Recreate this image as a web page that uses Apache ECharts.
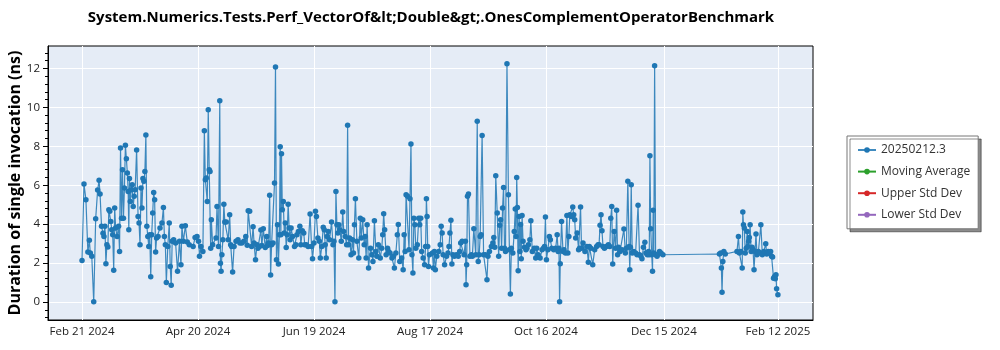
<!DOCTYPE html>
<html><head><meta charset="utf-8">
<script src="https://cdn.jsdelivr.net/npm/echarts@6/dist/echarts.min.js"></script>
<style>html,body{margin:0;padding:0;background:#fff}#chart{width:1000px;height:350px}</style>
</head><body><div id="chart"></div>
<script>
const titleText = 'System.Numerics.Tests.Perf_VectorOf&lt;Double&gt;.OnesComplementOperatorBenchmark';
const yAxisTitle = 'Duration of single invocation (ns)';
const seriesNames = ['20250212.3', 'Moving Average', 'Upper Std Dev', 'Lower Std Dev'];
const seriesColors = ['#1f77b4', '#2ca02c', '#d62728', '#9467bd'];

// run dates (one entry per day) and the values measured on that day
const runDates = [
'2024-02-21','2024-02-22','2024-02-23','2024-02-24','2024-02-25','2024-02-26','2024-02-27','2024-02-28','2024-02-29',
'2024-03-01','2024-03-02','2024-03-03','2024-03-04','2024-03-05','2024-03-06','2024-03-07','2024-03-08','2024-03-09','2024-03-10',
'2024-03-11','2024-03-12','2024-03-13','2024-03-14','2024-03-15','2024-03-16','2024-03-17','2024-03-18','2024-03-19','2024-03-20',
'2024-03-21','2024-03-22','2024-03-23','2024-03-24','2024-03-25','2024-03-26','2024-03-27','2024-03-28','2024-03-29','2024-03-30','2024-03-31',
'2024-04-01','2024-04-02','2024-04-03','2024-04-04','2024-04-05','2024-04-06','2024-04-07','2024-04-08','2024-04-09','2024-04-10',
'2024-04-11','2024-04-12','2024-04-13','2024-04-14','2024-04-15','2024-04-16','2024-04-18','2024-04-19','2024-04-20',
'2024-04-21','2024-04-22','2024-04-23','2024-04-24','2024-04-25','2024-04-26','2024-04-27','2024-04-28','2024-04-30',
'2024-05-01','2024-05-02','2024-05-03','2024-05-04','2024-05-05','2024-05-06','2024-05-07','2024-05-08','2024-05-09','2024-05-10',
'2024-05-11','2024-05-12','2024-05-13','2024-05-14','2024-05-15','2024-05-16','2024-05-17','2024-05-18','2024-05-19','2024-05-20',
'2024-05-21','2024-05-22','2024-05-23','2024-05-24','2024-05-25','2024-05-26','2024-05-27','2024-05-28','2024-05-29','2024-05-30','2024-05-31',
'2024-06-01','2024-06-02','2024-06-03','2024-06-04','2024-06-05','2024-06-06','2024-06-07','2024-06-08','2024-06-09','2024-06-10',
'2024-06-11','2024-06-12','2024-06-13','2024-06-14','2024-06-15','2024-06-16','2024-06-17','2024-06-18','2024-06-19','2024-06-20',
'2024-06-21','2024-06-22','2024-06-23','2024-06-24','2024-06-25','2024-06-26','2024-06-27','2024-06-28','2024-06-29','2024-06-30',
'2024-07-01','2024-07-02','2024-07-03','2024-07-04','2024-07-05','2024-07-06','2024-07-07','2024-07-08','2024-07-09','2024-07-10',
'2024-07-11','2024-07-12','2024-07-13','2024-07-14','2024-07-15','2024-07-16','2024-07-17','2024-07-18','2024-07-19','2024-07-20',
'2024-07-21','2024-07-22','2024-07-23','2024-07-24','2024-07-25','2024-07-26','2024-07-27','2024-07-28','2024-07-29','2024-07-30','2024-07-31',
'2024-08-01','2024-08-02','2024-08-03','2024-08-04','2024-08-05','2024-08-06','2024-08-07','2024-08-08','2024-08-09','2024-08-10',
'2024-08-11','2024-08-12','2024-08-13','2024-08-14','2024-08-15','2024-08-16','2024-08-17','2024-08-19','2024-08-20',
'2024-08-21','2024-08-22','2024-08-23','2024-08-24','2024-08-25','2024-08-26','2024-08-27','2024-08-28','2024-08-29','2024-08-30','2024-08-31',
'2024-09-01','2024-09-02','2024-09-03','2024-09-04','2024-09-05','2024-09-06','2024-09-07','2024-09-08','2024-09-09','2024-09-10',
'2024-09-11','2024-09-12','2024-09-13','2024-09-14','2024-09-15','2024-09-16','2024-09-17','2024-09-18','2024-09-19','2024-09-20',
'2024-09-21','2024-09-22','2024-09-23','2024-09-24','2024-09-25','2024-09-26','2024-09-27','2024-09-28','2024-09-29','2024-09-30',
'2024-10-01','2024-10-02','2024-10-03','2024-10-04','2024-10-05','2024-10-06','2024-10-07','2024-10-08','2024-10-09','2024-10-10',
'2024-10-11','2024-10-12','2024-10-13','2024-10-14','2024-10-15','2024-10-16','2024-10-17','2024-10-18','2024-10-19','2024-10-20',
'2024-10-21','2024-10-22','2024-10-23','2024-10-24','2024-10-25','2024-10-26','2024-10-27','2024-10-28','2024-10-29','2024-10-30','2024-10-31',
'2024-11-01','2024-11-02','2024-11-03','2024-11-04','2024-11-05','2024-11-06','2024-11-07','2024-11-08','2024-11-09','2024-11-10',
'2024-11-11','2024-11-12','2024-11-13','2024-11-14','2024-11-15','2024-11-16','2024-11-17','2024-11-18','2024-11-19','2024-11-20',
'2024-11-21','2024-11-22','2024-11-23','2024-11-24','2024-11-25','2024-11-26','2024-11-27','2024-11-28','2024-11-29','2024-11-30',
'2024-12-01','2024-12-02','2024-12-03','2024-12-04','2024-12-05','2024-12-06','2024-12-07','2024-12-08','2024-12-09','2024-12-10',
'2024-12-11','2024-12-12','2024-12-13','2024-12-14','2024-12-15',
'2025-01-13','2025-01-14','2025-01-15','2025-01-16',
'2025-01-22','2025-01-23','2025-01-24','2025-01-25','2025-01-26','2025-01-27','2025-01-28','2025-01-29','2025-01-30','2025-01-31',
'2025-02-01','2025-02-02','2025-02-03','2025-02-04','2025-02-05','2025-02-06','2025-02-07','2025-02-08','2025-02-09','2025-02-10',
'2025-02-11','2025-02-12'
];
const runValues = [
[2.14],[6.06],[5.26],[2.57],[3.17,2.52],[2.35],[0.02],[4.28],[5.75],
[6.25,5.55],[3.89],[3.54,3.37],[3.89,1.97],[2.95,2.83],[4.74,4.66],[4.14,3.72],[3.46,1.64],[4.83,3.8],[3.37],
[3.89,2.6],[7.91,4.31],[6.8,4.31],[5.86,8.05],[7.36,6.63],[5.68,3.72,6.34],[5.17,5.77],[6.03,4.91],[5.43,5.77],[7.81],
[4.4,4.06],[2.95,5.86],[4.83,6.34],[6.2,6.71],[8.58,3.89],[3.37,2.86],[3.46,1.3],[3.46,4.57],[5.63,5.26],[2.57,3.29],[3.37],
[3.8],[4.06],[4.86,3.37],[2.95,1.01],[2.86],[4.06,1.83],[0.86,3.12],[3.2],[3.03],[1.58],
[3.12],[1.92,3.89],[3.12],[3.92],[3.08],[2.95],[2.86],[3.32],[3.37],
[3.12,2.35],[2.86],[2.6],[8.8,6.28],[6.37,5.17],[9.88,6.8],[6.71,2.77,4.23],[2.95],[3.29,4.91],
[2.86],[10.34,2.0,1.58],[2.43,3.2],[5.03,4.11],[4.11],[3.2],[4.49,2.95],[2.86,1.54],[2.86],[3.12],
[3.2],[3.03],[3.03],[3.12],[3.37],[2.92,4.69],[4.66],[2.86],[3.87,3.03],[2.17],
[2.95,2.77],[2.86],[3.7,2.9],[3.77],[2.8],[3.37,2.9],[3.03,5.48],[1.39,2.95],[3.03],[6.11,12.07],[2.17,3.97],
[1.95,3.46],[7.98,3.46,7.62],[4.74,5.17],[3.55,4.06],[2.8,3.46],[5.03,3.8],[3.2,3.8],[3.37],[2.86],[2.95,3.46],
[3.63],[3.89,2.95],[3.66],[3.55,2.95],[2.95],[2.86],[4.52],[2.86,2.23],[3.03],[4.66,4.4],
[3.29],[3.12,2.26],[2.86],[3.84,3.72],[2.95,2.26],[3.37,3.63],[3.2],[4.11],[2.95,3.12],[0.02,5.68],
[3.97,3.55],[3.97,3.72],[3.12],[4.62,3.63],[3.37],[2.95,9.08],[2.95,3.29],[2.43],[3.2,2.52],[3.97,5.31],
[3.12],[2.26],[4.31,3.29],[4.23],[2.95,3.37],[2.26,3.97],[1.75],[2.77],[2.43,2.09],[4.18],
[2.6,2.35],[2.95],[2.26],[2.77,3.46],[4.54,3.72],[2.43],[2.77,2.6],[2.52],[2.26],[2.35,1.75],[2.52],
[3.46,3.99],[2.09],[2.26],[1.66,3.46],[2.6,5.51],[5.43],[2.69,5.31],[8.12,2.43],[1.49,4.31],[3.97,2.77],
[2.95],[4.31,3.97],[4.31,2.6],[2.26],[1.92,2.86],[5.31,4.4,2.86],[1.83,2.43],[2.52,1.75],[2.6,1.66],
[2.35],[2.6],[2.95,3.89],[3.55,2.43],[1.92],[2.35],[2.52,2.86],[3.55,4.2],[1.95,2.43],[2.35],[2.43],
[2.35],[2.6,3.03],[3.12],[2.43],[3.12,0.89,1.92],[5.43,5.55],[2.35],[2.43,2.35],[3.77],[2.43],
[9.28,2.09],[2.43,3.37],[3.46,8.56],[2.43],[2.43],[1.15,2.35],[2.6],[2.86],[3.03,3.32],[2.81,6.49],
[4.57],[2.35,3.94],[4.23,2.77],[4.83,5.89],[2.77,2.6],[12.24],[5.51,2.69],[0.41,2.77],[2.52],[3.63,4.78],
[3.37,6.4,4.86],[1.61,4.4],[2.6,3.99,2.23],[4.45,3.12],[2.81],[2.69,2.77],[2.95],[3.2,4.18],[2.6],[2.77],
[2.26,2.77],[2.43],[2.26],[2.69],[2.77,2.86],[4.37,2.17],[2.69],[3.37,3.2],[2.77],[2.69],
[2.77],[3.46,2.6],[2.77,0.02,1.97],[4.14],[2.6,2.69],[2.52],[4.45,2.52],[3.37,4.49],[4.4],[4.88,4.49],[4.23,3.29],
[3.55],[2.69,2.77],[4.88,2.77],[3.03],[2.6],[2.86],[2.05,2.86],[2.77],[1.92],[2.69],
[2.86],[2.95,2.95],[3.94,4.49],[3.66,2.86],[2.77],[2.86],[2.95],[2.86,4.31],[4.91,1.95],[3.63],
[2.77,4.71],[2.43,2.81],[2.6],[2.69],[3.75],[2.52,2.77],[6.2],[2.86,1.66,2.81],[6.03,2.52],[2.6],
[2.52],[2.43,4.97],[2.43],[2.35,2.23],[2.81],[3.07,2.52],[2.43],[2.6,2.43,7.52],[3.77,2.43],[1.58,4.71,2.52],
[12.14,2.43],[2.35],[2.47,2.6],[2.52],[2.43],
[2.47],[2.52,1.75,0.5],[2.09,2.6],[2.47],
[2.6],[3.37,2.52],[2.6],[1.75,4.62,3.97],[3.8,2.52],[2.77,3.63],[2.86,3.12,3.32],[3.97,2.6],[2.81,2.69],[1.66,2.6],
[3.49,2.43],[2.6],[2.52,3.97],[2.43],[2.6,2.52],[2.99,2.47],[2.6],[2.52,2.6],[2.35,2.31],[1.23,1.32],
[1.2,1.4,0.68],[0.38]
];

const xTickDates = ['2024-02-21T00:00Z','2024-04-20T12:00Z','2024-06-19T00:00Z','2024-08-17T12:00Z','2024-10-16T00:00Z','2024-12-15T12:00Z','2025-02-12T00:00Z'];
const xTickLabels = ['Feb 21 2024','Apr 20 2024','Jun 19 2024','Aug 17 2024','Oct 16 2024','Dec 15 2024','Feb 12 2025'];
const xRange = ['2024-02-03T13:00Z', '2025-03-02T00:00Z'];
const yTickValues = [0, 2, 4, 6, 8, 10, 12];
const yMinorStep = 0.4;
const yRange = [-0.92, 13.15];

const DAY = 86400000;
const points = [];
runDates.forEach((d, i) => {
  const vals = runValues[i];
  const base = Date.parse(d + 'T00:00:00Z');
  const n = vals.length;
  vals.forEach((v, j) => {
    points.push([base + (j - (n - 1) / 2) * DAY / n, v]);
  });
});
const xTickNums = xTickDates.map(s => Date.parse(s));
const yMinor = [];
for (let v = -0.8; v <= 13.0001; v += yMinorStep) yMinor.push(Math.round(v * 10) / 10);

const FONT = 'Open Sans';
const chart = echarts.init(document.getElementById('chart'), null, {renderer: 'canvas'});
const option = {
  animation: false,
  backgroundColor: '#ffffff',
  title: {
    text: titleText,
    left: 426, top: 5, textAlign: 'center',
    textStyle: {fontFamily: FONT, fontSize: 15, fontWeight: 'bold', color: '#000'}
  },
  graphic: [{
    type: 'text', x: 15, y: 183, rotation: Math.PI / 2,
    style: {
      text: yAxisTitle, fontFamily: FONT, fontSize: 16, fontWeight: 'bold', fill: '#000',
      textAlign: 'center', textVerticalAlign: 'middle'
    }
  }],
  legend: {
    orient: 'vertical', left: 847, top: 136,
    data: seriesNames,
    itemWidth: 18, itemHeight: 7, itemGap: 9.6, itemTextGap: 7,
    padding: [8, 8, 8, 10],
    backgroundColor: '#fff', borderColor: '#777', borderWidth: 1,
    shadowColor: 'rgba(0,0,0,0.45)', shadowBlur: 0, shadowOffsetX: 3, shadowOffsetY: 3,
    textStyle: {fontFamily: FONT, fontSize: 12, color: '#333'}
  },
  grid: {
    left: 48, top: 46, width: 765, height: 274,
    show: true, backgroundColor: '#e5ecf6', borderColor: '#000', borderWidth: 1,
    outerBoundsMode: 'none'
  },
  xAxis: {
    type: 'value',
    min: Date.parse(xRange[0]), max: Date.parse(xRange[1]),
    axisLine: {show: true, onZero: false, lineStyle: {color: '#000', width: 1}},
    axisTick: {show: false, customValues: xTickNums},
    axisLabel: {
      customValues: xTickNums, margin: 6,
      fontFamily: FONT, fontSize: 11.5, color: '#222',
      formatter: (val) => {
        const k = xTickNums.findIndex(t => Math.abs(t - val) < 1000);
        return k >= 0 ? xTickLabels[k] : '';
      }
    },
    splitLine: {show: true, lineStyle: {color: '#ffffff', width: 1}}
  },
  yAxis: [{
    type: 'value',
    min: yRange[0], max: yRange[1],
    axisLine: {show: true, onZero: false, lineStyle: {color: '#000', width: 1}},
    axisTick: {show: true, customValues: yTickValues, length: 5, lineStyle: {color: '#000'}},
    axisLabel: {customValues: yTickValues, margin: 8, fontFamily: FONT, fontSize: 11.5, color: '#222'},
    splitLine: {show: true, lineStyle: {color: '#ffffff', width: 1}}
  }, {
    type: 'value', position: 'left',
    min: yRange[0], max: yRange[1],
    axisLine: {show: false, onZero: false},
    axisTick: {show: true, customValues: yMinor, length: 3, lineStyle: {color: '#000'}},
    axisLabel: {show: false},
    splitLine: {show: false}
  }],
  series: [
    {
      name: seriesNames[0], type: 'line', data: points,
      symbol: 'circle', symbolSize: 5.5, showSymbol: true,
      itemStyle: {color: seriesColors[0]},
      lineStyle: {color: seriesColors[0], width: 1.2, opacity: 0.85}
    },
    {name: seriesNames[1], type: 'line', data: [], symbol: 'circle', itemStyle: {color: seriesColors[1]}, lineStyle: {color: seriesColors[1], width: 1.2}},
    {name: seriesNames[2], type: 'line', data: [], symbol: 'circle', itemStyle: {color: seriesColors[2]}, lineStyle: {color: seriesColors[2], width: 1.2}},
    {name: seriesNames[3], type: 'line', data: [], symbol: 'circle', itemStyle: {color: seriesColors[3]}, lineStyle: {color: seriesColors[3], width: 1.2}}
  ]
};
chart.setOption(option);
</script>
</body></html>
